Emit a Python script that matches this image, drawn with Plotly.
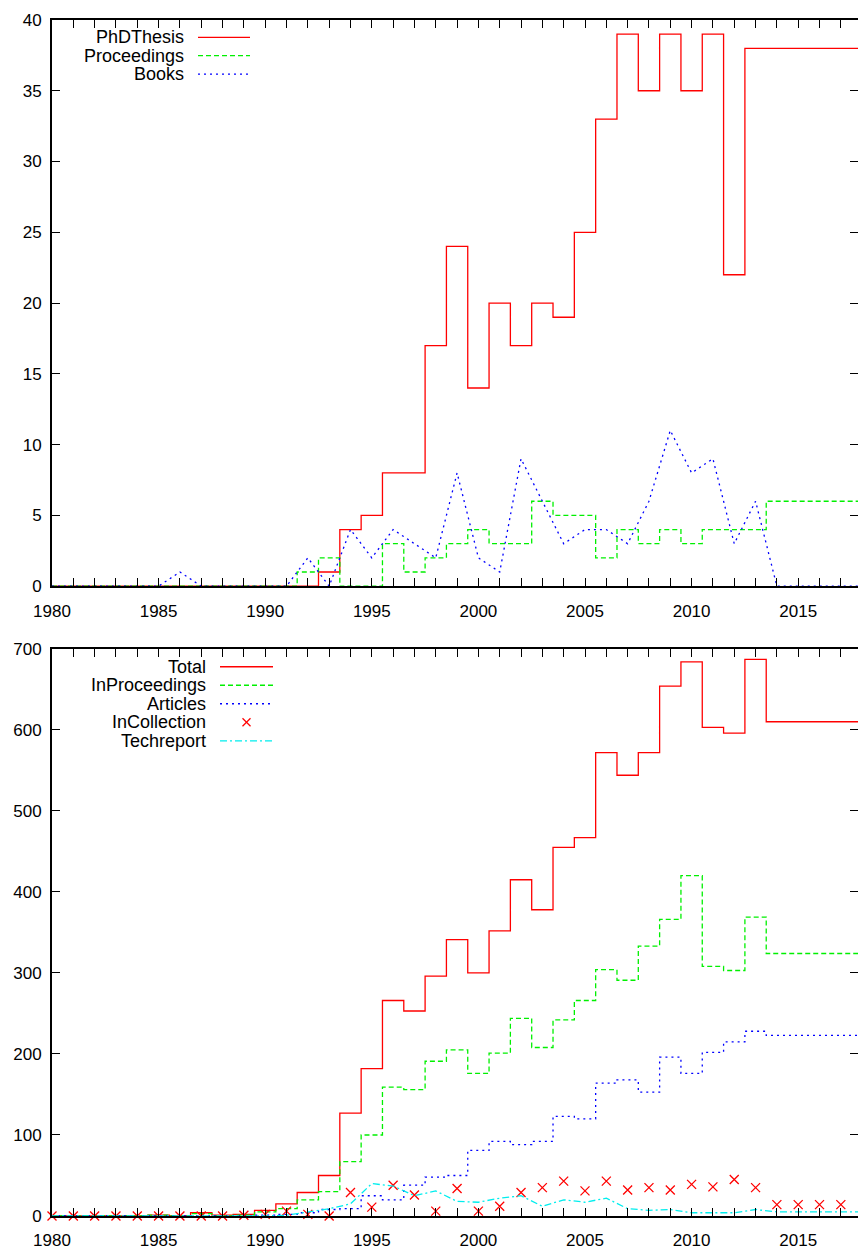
import plotly.graph_objects as go

# ---------------- data ----------------
years = [1980, 1981, 1982, 1983, 1984, 1985, 1986, 1987, 1988, 1989,
         1990, 1991, 1992, 1993, 1994, 1995, 1996, 1997, 1998, 1999,
         2000, 2001, 2002, 2003, 2004, 2005, 2006, 2007, 2008, 2009,
         2010, 2011, 2012, 2013, 2014, 2015, 2016, 2017, 2018]

# top panel
phd_thesis = [0, 0, 0, 0, 0, 0, 0, 0, 0, 0,
              0, 0, 0, 1, 4, 5, 8, 8, 17, 24,
              14, 20, 17, 20, 19, 25, 33, 39, 35, 39,
              35, 39, 22, 38, 38, 38, 38, 38, 38]
proceedings = [0, 0, 0, 0, 0, 0, 0, 0, 0, 0,
               0, 0, 1, 2, 0, 0, 3, 1, 2, 3,
               4, 3, 3, 6, 5, 5, 2, 4, 3, 4,
               3, 4, 4, 4, 6, 6, 6, 6, 6]
books = [0, 0, 0, 0, 0, 0, 1, 0, 0, 0,
         0, 0, 2, 0, 4, 2, 4, 3, 2, 8,
         2, 1, 9, 6, 3, 4, 4, 3, 6, 11,
         8, 9, 3, 6, 0, 0, 0, 0, 0]

# bottom panel
total = [0, 0, 0, 0, 0, 1, 0, 4, 1, 2,
         7, 15, 29, 50, 127, 182, 266, 253, 296, 341,
         300, 352, 415, 378, 455, 467, 572, 544, 572, 654,
         684, 603, 596, 687, 610, 610, 610, 610, 610]
in_proceedings = [0, 0, 0, 0, 0, 1, 0, 3, 0, 1,
                  5, 9, 20, 30, 67, 100, 159, 156, 191, 205,
                  176, 201, 244, 208, 242, 266, 304, 291, 333, 366,
                  420, 308, 303, 369, 324, 324, 324, 324, 324]
articles = [0, 0, 0, 0, 0, 0, 0, 0, 0, 0,
            1, 2, 4, 8, 9, 25, 20, 38, 48, 50,
            81, 92, 88, 92, 123, 120, 164, 168, 153, 196,
            176, 202, 215, 228, 223, 223, 223, 223, 223]
in_collection = [0, 0, 0, 0, 0, 0, 0, 0, 0, 1,
                 2, 6, 2, 0, 29, 11, 38, 26, 6, 34,
                 6, 12, 29, 35, 43, 31, 43, 32, 35, 32,
                 39, 36, 45, 35, 14, 14, 14, 14, 18]
techreport = [0, 0, 0, 0, 0, 0, 0, 0, 0, 0,
              0, 1, 5, 9, 15, 40, 37, 25, 31, 18,
              17, 22, 25, 12, 20, 17, 22, 9, 7, 8,
              4, 4, 4, 8, 5, 5, 5, 5, 5]

top_names = ["PhDThesis", "Proceedings", "Books"]
bottom_names = ["Total", "InProceedings", "Articles", "InCollection", "Techreport"]

# ---------------- styling ----------------
RED, GREEN, BLUE, CYAN = "#ff0000", "#00f000", "#0000ff", "#00eeee"
FONT = "Liberation Sans, Arial, Helvetica, sans-serif"
W, H = 858, 1250
# plot-area edges in window pixels
LEFT, RIGHT = 52, 858
TOP1, BOT1 = 20, 589
TOP2, BOT2 = 652, 1222

ML = LEFT
MR = W - RIGHT
MT = TOP1
MB = H - BOT2
PW, PH = W - ML - MR, H - MT - MB
X_MAX = 1980 + PW / 21.32

def px(xp):
    return (xp - LEFT) / PW

def py(yp):
    return (BOT2 - yp) / PH

TOP_DOM = [py(BOT1), 1.0]
BOT_DOM = [0.0, py(TOP2)]

LW = 1.3
dash_green = "5px,3px"
dash_blue = "2px,4px"
dash_cyan = "7px,3px,2px,3px"

fig = go.Figure()

# top panel traces
fig.add_trace(go.Scatter(x=years, y=phd_thesis, mode="lines", line_shape="hvh",
                         line=dict(color=RED, width=LW), xaxis="x", yaxis="y",
                         name=top_names[0], showlegend=False))
fig.add_trace(go.Scatter(x=years, y=proceedings, mode="lines", line_shape="hvh",
                         line=dict(color=GREEN, width=LW, dash=dash_green),
                         xaxis="x", yaxis="y", name=top_names[1], showlegend=False))
fig.add_trace(go.Scatter(x=years, y=books, mode="lines",
                         line=dict(color=BLUE, width=LW, dash=dash_blue),
                         xaxis="x", yaxis="y", name=top_names[2], showlegend=False))

# bottom panel traces
fig.add_trace(go.Scatter(x=years, y=total, mode="lines", line_shape="hvh",
                         line=dict(color=RED, width=LW), xaxis="x2", yaxis="y2",
                         name=bottom_names[0], showlegend=False))
fig.add_trace(go.Scatter(x=years, y=in_proceedings, mode="lines", line_shape="hvh",
                         line=dict(color=GREEN, width=LW, dash=dash_green),
                         xaxis="x2", yaxis="y2", name=bottom_names[1], showlegend=False))
fig.add_trace(go.Scatter(x=years, y=articles, mode="lines", line_shape="hvh",
                         line=dict(color=BLUE, width=LW, dash=dash_blue),
                         xaxis="x2", yaxis="y2", name=bottom_names[2], showlegend=False))
fig.add_trace(go.Scatter(x=years, y=in_collection, mode="markers",
                         marker=dict(symbol="x-thin", size=9, color=RED,
                                     line=dict(color=RED, width=1.3)),
                         cliponaxis=False,
                         xaxis="x2", yaxis="y2", name=bottom_names[3], showlegend=False))
fig.add_trace(go.Scatter(x=years, y=techreport, mode="lines",
                         line=dict(color=CYAN, width=LW, dash=dash_cyan),
                         xaxis="x2", yaxis="y2", name=bottom_names[4], showlegend=False))

# empty traces to activate right-side tick axes
fig.add_trace(go.Scatter(x=[], y=[], xaxis="x", yaxis="y3", showlegend=False, hoverinfo="skip"))
fig.add_trace(go.Scatter(x=[], y=[], xaxis="x2", yaxis="y4", showlegend=False, hoverinfo="skip"))

tickfont = dict(family=FONT, size=17, color="black")

def xaxis_cfg(anchor):
    return dict(anchor=anchor, domain=[0, 1], range=[1980, X_MAX],
                tick0=1980, dtick=5, ticks="inside", ticklen=8, tickwidth=1.3,
                tickcolor="black", showline=True, linecolor="black", linewidth=2,
                mirror="ticks", showgrid=False, zeroline=False,
                tickfont=tickfont, ticklabelstandoff=8,
                minor=dict(dtick=1, tick0=1980, ticks="inside", ticklen=8,
                           tickwidth=1.3, tickcolor="black", showgrid=False))

def yaxis_cfg(anchor, dom, rng, dt):
    return dict(anchor=anchor, domain=dom, range=rng, dtick=dt, tick0=0,
                ticks="inside", ticklen=8, tickwidth=1.3, tickcolor="black",
                showline=True, linecolor="black", linewidth=2, mirror=False,
                showgrid=False, zeroline=False, tickfont=tickfont,
                ticklabelstandoff=5)

def yright_cfg(anchor, over, rng, dt):
    return dict(anchor=anchor, overlaying=over, side="right", range=rng, dtick=dt,
                tick0=0, ticks="inside", ticklen=8, tickwidth=1.3, tickcolor="black",
                showline=False, showgrid=False, zeroline=False, showticklabels=False)

fig.update_layout(
    width=W, height=H,
    margin=dict(l=ML, r=MR, t=MT, b=MB, pad=0),
    paper_bgcolor="white", plot_bgcolor="white",
    showlegend=False,
    xaxis=xaxis_cfg("y"),
    yaxis=yaxis_cfg("x", TOP_DOM, [0, 40], 5),
    xaxis2=xaxis_cfg("y2"),
    yaxis2=yaxis_cfg("x2", BOT_DOM, [0, 700], 100),
    yaxis3=yright_cfg("x", "y", [0, 40], 5),
    yaxis4=yright_cfg("x2", "y2", [0, 700], 100),
)

# ---------------- manual gnuplot-style keys ----------------
legfont = dict(family=FONT, size=18, color="black")
annotations = []
shapes = []

def key_entry(label, ypix, text_right, s0, s1, color, dash, marker=False):
    annotations.append(dict(xref="paper", yref="paper", x=px(text_right), y=py(ypix),
                            xanchor="right", yanchor="middle", text=label,
                            showarrow=False, font=legfont))
    if marker:
        cx = (s0 + s1) / 2
        r = 4
        shapes.append(dict(type="line", xref="paper", yref="paper",
                           x0=px(cx - r), x1=px(cx + r), y0=py(ypix - r), y1=py(ypix + r),
                           line=dict(color=color, width=1.3)))
        shapes.append(dict(type="line", xref="paper", yref="paper",
                           x0=px(cx - r), x1=px(cx + r), y0=py(ypix + r), y1=py(ypix - r),
                           line=dict(color=color, width=1.3)))
    else:
        shapes.append(dict(type="line", xref="paper", yref="paper",
                           x0=px(s0), x1=px(s1), y0=py(ypix), y1=py(ypix),
                           line=dict(color=color, width=LW, dash=dash)))

top_styles = [(RED, "solid"), (GREEN, dash_green), (BLUE, dash_blue)]
for i, (name, (c, d)) in enumerate(zip(top_names, top_styles)):
    key_entry(name, 37.5 + i * 18.4, 186, 198, 250, c, d)

bot_styles = [(RED, "solid", False), (GREEN, dash_green, False), (BLUE, dash_blue, False),
              (RED, None, True), (CYAN, dash_cyan, False)]
for i, (name, (c, d, m)) in enumerate(zip(bottom_names, bot_styles)):
    key_entry(name, 670 + i * 18.6, 208, 220, 273, c, d, marker=m)

fig.update_layout(annotations=annotations, shapes=shapes)

# remove the default 8px page margin so the figure fills the window exactly
fig.write_html("out.html",
               config={"displayModeBar": False},
               post_script="document.body.style.margin='0';"
                           "document.body.style.overflow='hidden';")
